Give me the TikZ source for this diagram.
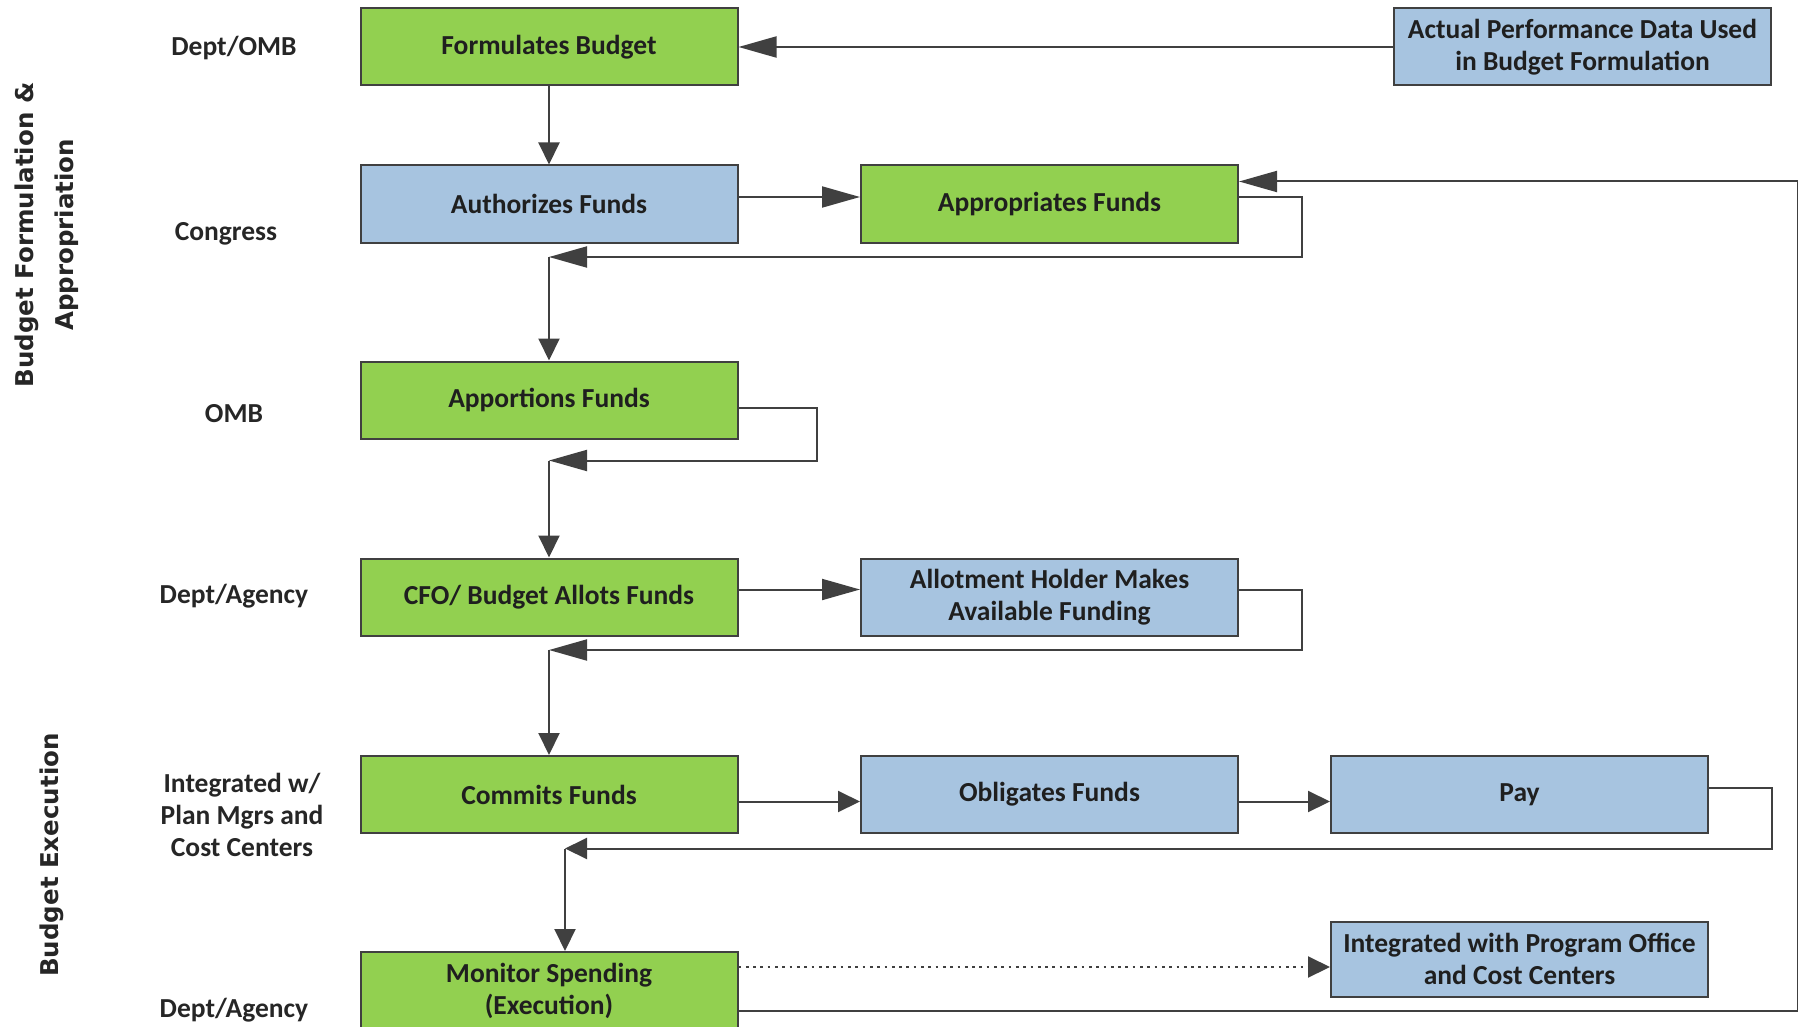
\documentclass[tikz,border=0pt]{standalone}
\usepackage{fontspec}
\setmainfont{Carlito}
\newfontfamily\sidefont{DejaVu Sans}
\usetikzlibrary{arrows.meta}
\definecolor{boxgreen}{HTML}{92D050}
\definecolor{boxblue}{HTML}{A7C4E0}
\definecolor{edge}{HTML}{404040}
\begin{document}
\begin{tikzpicture}[x=1pt,y=-1pt,
  stage/.style={draw=edge, line width=2pt, minimum width=377pt, minimum height=77pt,
    inner sep=0pt, align=center, font=\fontsize{27.5}{32}\selectfont\bfseries, text=black!88},
  greenbox/.style={stage, fill=boxgreen},
  bluebox/.style={stage, fill=boxblue},
  role/.style={align=center, font=\fontsize{27.5}{32}\selectfont\bfseries, text=black!85},
  phase/.style={align=center, rotate=90, font=\sidefont\fontsize{24.5}{40}\selectfont\bfseries, text=black!85},
  conn/.style={draw=edge, line width=2pt},
  longtip/.style={-{Triangle[length=38pt,width=21pt]}},
  shorttip/.style={-{Triangle[length=22pt,width=21pt]}},
]
\clip (0,0) rectangle (1798,1027);

% process boxes
\node[greenbox] (form)    at (549,47)     {Formulates Budget};
\node[bluebox]  (act)     at (1582.5,47)  {Actual Performance Data Used\\in Budget Formulation};
\node[bluebox]  (auth)    at (549,204)    {Authorizes Funds};
\node[greenbox] (appr)    at (1049.5,204) {Appropriates Funds};
\node[greenbox] (appo)    at (549,400)    {Apportions Funds};
\node[greenbox] (allots)  at (549,597)    {CFO/ Budget Allots Funds};
\node[bluebox]  (avail)   at (1049.5,597) {Allotment Holder Makes\\Available Funding};
\node[greenbox] (commit)  at (549,794.5)  {Commits Funds};
\node[bluebox]  (oblig)   at (1049.5,794.5) {Obligates Funds};
\node[bluebox]  (pay)     at (1519.5,794.5) {Pay};
\node[greenbox, minimum height=78pt] (monitor) at (549,991) {Monitor Spending\\(Execution)};
\node[bluebox, minimum height=75pt]  (intpo)   at (1519.5,959) {Integrated with Program Office\\and Cost Centers};

% responsible parties
\node[role] (r1) at (234,48)   {Dept/OMB};
\node[role] (r2) at (226,234)  {Congress};
\node[role] (r3) at (234,414)  {OMB};
\node[role] (r4) at (234,596)  {Dept/Agency};
\node[role] (r5) at (242,815)  {Integrated w/\\Plan Mgrs and\\Cost Centers};
\node[role] (r6) at (234,1010) {Dept/Agency};

% phases
\node[phase] (ph1) at (47,235) {Budget Formulation \&\\Appropriation};
\node[phase] (ph2) at (52,855) {Budget Execution};

% junctions on the main column
\coordinate (j1) at (549,257);
\coordinate (j2) at (549,460.5);
\coordinate (j3) at (549,650);
\coordinate (j4) at (565,848.5);

% flow
\draw[conn,longtip]  (act.west) -- (form.east);
\draw[conn,shorttip] (form) -- (auth);
\draw[conn,longtip]  ([yshift=7pt]auth.east) -- ([yshift=7pt]appr.west);
\draw[conn,longtip]  ([yshift=7pt]appr.east) -- ++(63,0) |- (j1);
\draw[conn,shorttip] (j1) -- (appo);
\draw[conn,longtip]  ([yshift=-7.5pt]appo.east) -- ++(78,0) |- (j2);
\draw[conn,shorttip] (j2) -- (allots);
\draw[conn,longtip]  ([yshift=7.5pt]allots.east) -- ([yshift=7.5pt]avail.west);
\draw[conn,longtip]  ([yshift=7.5pt]avail.east) -- ++(63,0) |- (j3);
\draw[conn,shorttip] (j3) -- (commit);
\draw[conn,shorttip] ([yshift=-7pt]commit.east) -- ([yshift=-7pt]oblig.west);
\draw[conn,shorttip] ([yshift=-7pt]oblig.east) -- ([yshift=-7pt]pay.west);
\draw[conn,shorttip] ([yshift=7pt]pay.east) -- ++(63,0) |- (j4);
\draw[conn,shorttip] (j4) -- (j4 |- monitor.north);
\draw[conn,shorttip,dash pattern=on 2.7pt off 4.6pt]
  ([yshift=24pt]monitor.east) -- ([yshift=-8pt]intpo.west);
\draw[conn,longtip]  ([yshift=-20pt]monitor.east) -- ++(1059,0) |- ([yshift=22.5pt]appr.east);
\end{tikzpicture}
\end{document}
